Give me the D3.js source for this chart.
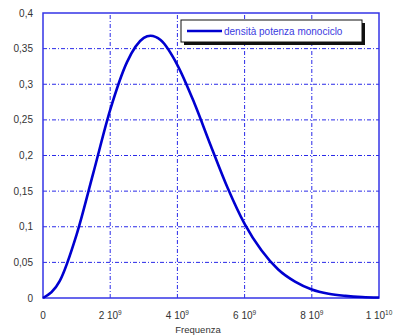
<!DOCTYPE html>
<html>
<head>
  <meta charset="utf-8">
  <title>densita potenza monociclo</title>
  <style type="text/css">
    body {
      margin: 0;
      background: white;
    }
    text {
      font-family: "Liberation Sans", Arial, sans-serif;
    }
  </style>
  <script src="https://cdnjs.cloudflare.com/ajax/libs/d3/7.8.5/d3.min.js"></script>
</head>
<body>
  <div id="chart"></div>
  <script>
    // frequency (units of 1e9 Hz) and density values
    var freq = [0, 0.5, 1, 1.5, 2, 2.5, 3, 3.2, 3.5, 4, 4.5, 5, 5.5, 6, 6.5, 7, 7.5, 8, 8.5, 9, 9.5, 10];
    var density = [0, 0.024, 0.089, 0.176, 0.264, 0.331, 0.365, 0.368, 0.362, 0.327, 0.274, 0.213,
                   0.154, 0.104, 0.067, 0.040, 0.023, 0.012, 0.006, 0.003, 0.0013, 0.0006];
    var xTicks = [0, 2, 4, 6, 8, 10];
    var xTickLabels = [["0", ""], ["2 10", "9"], ["4 10", "9"], ["6 10", "9"], ["8 10", "9"], ["1 10", "10"]];
    var yTicks = [0, 0.05, 0.1, 0.15, 0.2, 0.25, 0.3, 0.35, 0.4];
    var yTickLabels = ["0", "0,05", "0,1", "0,15", "0,2", "0,25", "0,3", "0,35", "0,4"];
    var legendLabel = "densità potenza monociclo";
    var xTitle = "Frequenza";

    var width = 394, height = 335;
    var margin = {top: 13, right: 15, bottom: 37, left: 43};

    var svg = d3.select('#chart').append('svg')
      .attr('width', width)
      .attr('height', height);

    var x = d3.scaleLinear().domain([0, 10]).range([margin.left, width - margin.right]);
    var y = d3.scaleLinear().domain([0, 0.4]).range([height - margin.bottom, margin.top]);

    // grid
    var grid = svg.append('g').attr('stroke', '#2a2ae8').attr('stroke-width', 1)
      .attr('stroke-dasharray', '4,2,1,2');
    grid.selectAll('line.gx')
      .data(xTicks.slice(1, -1))
      .enter().append('line')
      .attr('x1', function (d) { return x(d); })
      .attr('x2', function (d) { return x(d); })
      .attr('y1', y(0)).attr('y2', y(0.4));
    grid.selectAll('line.gy')
      .data(yTicks.slice(1, -1))
      .enter().append('line')
      .attr('y1', function (d) { return y(d); })
      .attr('y2', function (d) { return y(d); })
      .attr('x1', x(0)).attr('x2', x(10));

    // frame
    svg.append('rect')
      .attr('x', x(0)).attr('y', y(0.4))
      .attr('width', x(10) - x(0)).attr('height', y(0) - y(0.4))
      .attr('fill', 'none')
      .attr('stroke', '#3434e6')
      .attr('stroke-width', 1.5);

    // curve
    var pts = freq.map(function (f, i) { return [f, density[i]]; });
    var line = d3.line()
      .x(function (d) { return x(d[0]); })
      .y(function (d) { return y(d[1]); })
      .curve(d3.curveMonotoneX);
    svg.append('path')
      .datum(pts)
      .attr('d', line)
      .attr('fill', 'none')
      .attr('stroke', '#0000d0')
      .attr('stroke-width', 2.6);

    // y tick labels
    svg.selectAll('text.ylab')
      .data(yTicks)
      .enter().append('text')
      .attr('x', 33)
      .attr('y', function (d) { return y(d) + 3.5; })
      .attr('text-anchor', 'end')
      .attr('font-size', 10)
      .attr('fill', '#333')
      .text(function (d, i) { return yTickLabels[i]; });

    // x tick labels with exponents
    var xl = svg.selectAll('text.xlab')
      .data(xTicks)
      .enter().append('text')
      .attr('x', function (d) { return x(d); })
      .attr('y', 319)
      .attr('text-anchor', 'middle')
      .attr('font-size', 10)
      .attr('fill', '#333');
    xl.append('tspan').text(function (d, i) { return xTickLabels[i][0]; });
    xl.append('tspan')
      .attr('dy', -4)
      .attr('font-size', 6.5)
      .text(function (d, i) { return xTickLabels[i][1]; });

    svg.append('text')
      .attr('x', 198)
      .attr('y', 333)
      .attr('text-anchor', 'middle')
      .attr('font-size', 9.5)
      .attr('fill', '#333')
      .text(xTitle);

    // legend
    var lg = svg.append('g');
    lg.append('rect')
      .attr('x', 184).attr('y', 23).attr('width', 181).attr('height', 22)
      .attr('fill', '#111');
    lg.append('rect')
      .attr('x', 181).attr('y', 20).attr('width', 181).attr('height', 22)
      .attr('fill', 'white')
      .attr('stroke', '#111')
      .attr('stroke-width', 1);
    lg.append('line')
      .attr('x1', 187).attr('x2', 222).attr('y1', 31).attr('y2', 31)
      .attr('stroke', '#0000d0')
      .attr('stroke-width', 2.6);
    lg.append('text')
      .attr('x', 224).attr('y', 34.5)
      .attr('font-size', 10)
      .attr('fill', '#3a3ae0')
      .text(legendLabel);
  </script>
</body>
</html>
